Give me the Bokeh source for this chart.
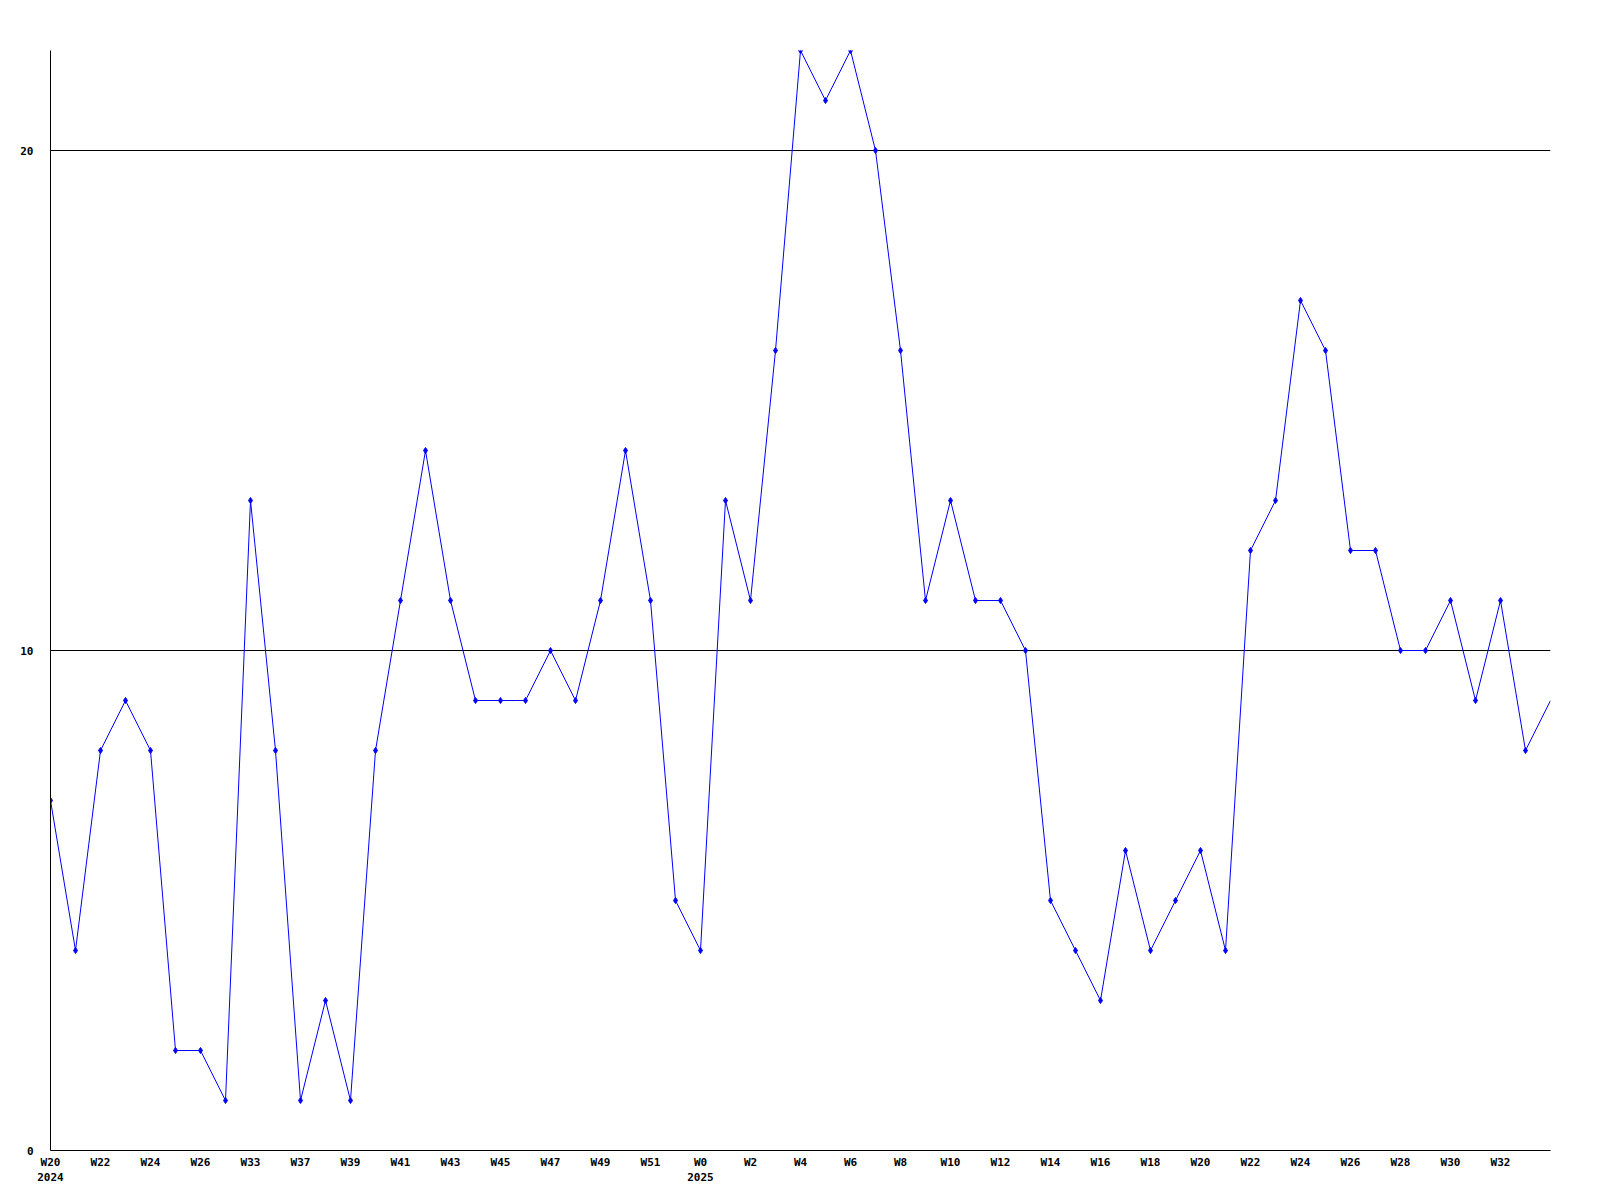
from bokeh.plotting import figure
from bokeh.models import Range1d, FixedTicker, LinearAxis
from bokeh.embed import file_html
from bokeh.resources import INLINE

weeks = ["W20", "W21", "W22", "W23", "W24", "W25", "W26", "W32", "W33", "W35",
         "W37", "W38", "W39", "W40", "W41", "W42", "W43", "W44", "W45", "W46",
         "W47", "W48", "W49", "W50", "W51", "W52", "W0", "W1", "W2", "W3",
         "W4", "W5", "W6", "W7", "W8", "W9", "W10", "W11", "W12", "W13",
         "W14", "W15", "W16", "W17", "W18", "W19", "W20", "W21", "W22", "W23",
         "W24", "W25", "W26", "W27", "W28", "W29", "W30", "W31", "W32", "W33",
         "W34"]
values = [7, 4, 8, 9, 8, 2, 2, 1, 13, 8,
          1, 3, 1, 8, 11, 14, 11, 9, 9, 9,
          10, 9, 11, 14, 11, 5, 4, 13, 11, 16,
          22, 21, 22, 20, 16, 11, 13, 11, 11, 10,
          5, 4, 3, 6, 4, 5, 6, 4, 12, 13,
          17, 16, 12, 12, 10, 10, 11, 9, 11, 8,
          9]
year_labels = {0: "2024", 26: "2025"}
y_ticks = [0, 10, 20]

xs = list(range(len(values)))
font = "DejaVu Sans Mono"

p = figure(width=1560, height=1195, output_backend="svg", toolbar_location=None,
           x_range=Range1d(0, len(values) - 1), y_range=Range1d(0, 22),
           min_border_left=50, min_border_top=50, min_border_right=10,
           min_border_bottom=45)
p.outline_line_color = None
p.background_fill_color = "white"

p.xgrid.grid_line_color = None
p.ygrid.grid_line_color = "black"
p.ygrid.grid_line_width = 1
p.ygrid.ticker = FixedTicker(ticks=[10, 20])

for ax in (p.xaxis[0], p.yaxis[0]):
    ax.axis_line_color = "black"
    ax.axis_line_width = 1
    ax.major_tick_line_color = None
    ax.minor_tick_line_color = None
    ax.major_label_text_font = font
    ax.major_label_text_font_size = "11px"
    ax.major_label_text_font_style = "bold"
    ax.major_label_text_color = "black"

p.yaxis.ticker = FixedTicker(ticks=y_ticks)
p.yaxis.major_label_standoff = 11

even = [i for i in xs[:-1] if i % 2 == 0]
p.xaxis.ticker = FixedTicker(ticks=even)
p.xaxis.major_label_overrides = {i: weeks[i] for i in even}
p.xaxis.major_label_standoff = -1

yax = LinearAxis(ticker=FixedTicker(ticks=list(year_labels.keys())),
                 major_label_overrides=year_labels)
yax.axis_line_color = None
yax.major_tick_line_color = None
yax.minor_tick_line_color = None
yax.major_label_standoff = -5
yax.major_label_text_font = font
yax.major_label_text_font_size = "11px"
yax.major_label_text_font_style = "bold"
yax.major_label_text_color = "black"
p.add_layout(yax, "below")

p.line(xs, values, line_color="#0000ff", line_width=1)
p.scatter(xs[:-1], values[:-1], marker="diamond", size=6,
          fill_color="#0000ff", line_color="#0000ff")

open("out.html", "w").write(file_html(p, INLINE))
